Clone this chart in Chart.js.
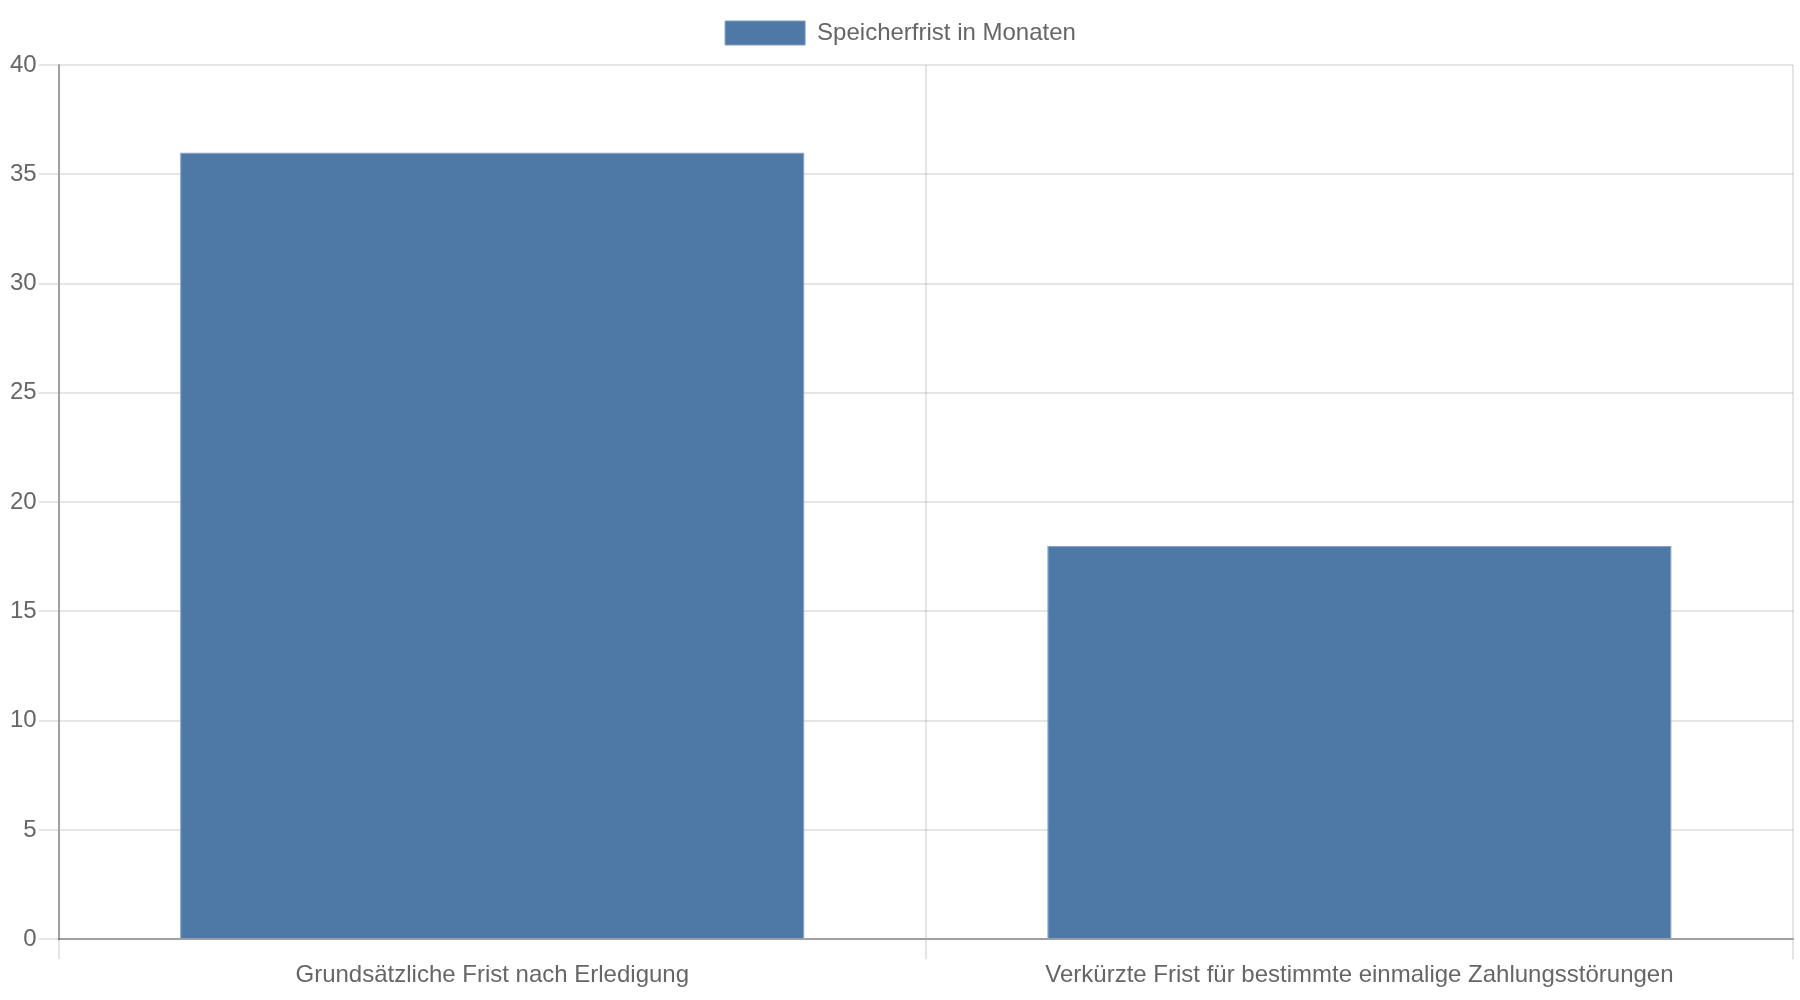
<!DOCTYPE html>
<html>
<head>
<meta charset="utf-8">
<script src="https://cdn.jsdelivr.net/npm/chart.js@4/dist/chart.umd.min.js"></script>
<style>
html,body{margin:0;padding:0;background:#fff;}
#wrap{width:1800px;height:1000px;position:relative;}
</style>
</head>
<body>
<div id="wrap"><canvas id="c" width="1800" height="1000"></canvas></div>
<script>
const categories = ["Grundsätzliche Frist nach Erledigung", "Verkürzte Frist für bestimmte einmalige Zahlungsstörungen"];
const seriesLabel = "Speicherfrist in Monaten";
const seriesValues = [36, 18];
const yMin = 0, yMax = 40, yStep = 5;

const FONT = "'Liberation Sans', Arial, Helvetica, sans-serif";
Chart.defaults.font.family = FONT;
Chart.defaults.font.size = 24;
Chart.defaults.color = '#666';

const legendSpacer = {
  id: 'legendSpacer',
  beforeLayout(chart) {
    const lg = chart.legend;
    if (lg && !lg._patched) {
      const orig = lg.fit;
      lg.fit = function () { orig.call(this); this.height += 10; };
      lg._patched = true;
    }
  }
};

new Chart(document.getElementById('c'), {
  type: 'bar',
  data: {
    labels: categories,
    datasets: [{
      label: seriesLabel,
      data: seriesValues,
      backgroundColor: '#4e79a7',
      borderColor: '#7f9cc0',
      borderWidth: 1,
      barPercentage: 0.9,
      categoryPercentage: 0.8
    }]
  },
  plugins: [legendSpacer],
  options: {
    responsive: false,
    animation: false,
    devicePixelRatio: 1,
    layout: { padding: { left: 8, right: 7, top: 1, bottom: 8 } },
    plugins: {
      legend: {
        position: 'top',
        labels: { boxWidth: 80, boxHeight: 24, padding: 20, font: { size: 24 }, color: '#666' }
      },
      tooltip: { enabled: false }
    },
    scales: {
      x: {
        offset: true,
        grid: { offset: true, color: 'rgba(0,0,0,0.1)', lineWidth: 2, tickLength: 20, drawTicks: true },
        border: { color: 'rgba(0,0,0,0.3)', width: 2 },
        ticks: { padding: 2, font: { size: 24 }, color: '#666', maxRotation: 0, autoSkip: false }
      },
      y: {
        min: yMin, max: yMax,
        grid: { color: 'rgba(0,0,0,0.1)', lineWidth: 2, tickLength: 20 },
        border: { color: 'rgba(0,0,0,0.3)', width: 2 },
        ticks: { stepSize: yStep, padding: 2, font: { size: 24 }, color: '#666' }
      }
    }
  }
});
</script>
</body>
</html>
